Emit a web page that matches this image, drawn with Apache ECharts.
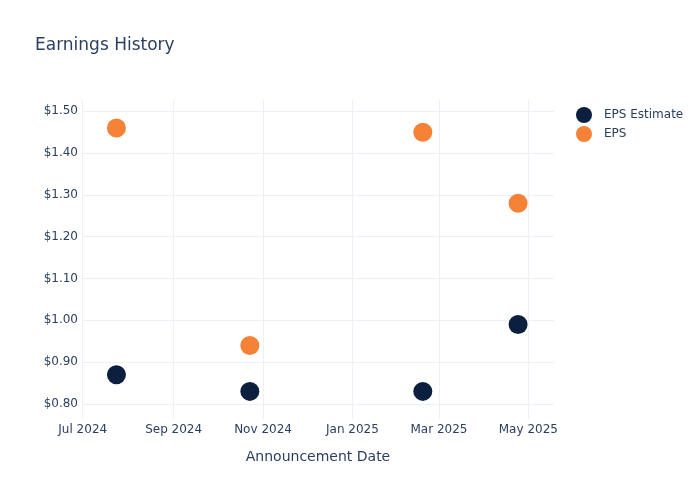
<!DOCTYPE html>
<html>
<head>
<meta charset="utf-8">
<script src="https://cdn.jsdelivr.net/npm/echarts@6/dist/echarts.min.js"></script>
<style>
  html, body { margin: 0; padding: 0; background: #fff; }
  #chart { width: 700px; height: 500px; }
</style>
</head>
<body>
<div id="chart"></div>
<script>
// Announcement dates and EPS values
const dates = ["2024-07-24", "2024-10-23", "2025-02-18", "2025-04-24"];
const epsEstimate = [0.87, 0.83, 0.83, 0.99];
const epsActual = [1.46, 0.94, 1.45, 1.28];

// Tick labels
const xTicks = ["2024-07-01", "2024-09-01", "2024-11-01", "2025-01-01", "2025-03-01", "2025-05-01"];
const yTicks = [0.8, 0.9, 1.0, 1.1, 1.2, 1.3, 1.4, 1.5];
const monthNames = ["Jan", "Feb", "Mar", "Apr", "May", "Jun", "Jul", "Aug", "Sep", "Oct", "Nov", "Dec"];

const textColor = "#2a3f5f";
const gridColor = "#ebf0f8";
const font = "DejaVu Sans";

function toTime(d) {
  return new Date(d + "T00:00:00Z").getTime();
}

function pairs(values) {
  return dates.map((d, i) => [toTime(d), values[i]]);
}

const chart = echarts.init(document.getElementById("chart"), null, { renderer: "canvas" });

// x axis is a plain value axis of timestamps so the month ticks can be placed exactly
chart.setOption({
  animation: false,
  textStyle: { fontFamily: font, color: textColor },
  title: {
    text: "Earnings History",
    left: 30,
    top: 32,
    textStyle: { fontFamily: font, fontSize: 17, fontWeight: "normal", color: textColor },
  },
  legend: {
    orient: "vertical",
    left: 571,
    top: 102,
    itemWidth: 16,
    itemHeight: 16,
    itemGap: 3,
    icon: "circle",
    textStyle: { fontFamily: font, fontSize: 12, color: textColor, padding: [0, 0, 0, 7] },
    data: ["EPS Estimate", "EPS"],
  },
  grid: { left: 82, right: 146, top: 100, bottom: 81, containLabel: false },
  xAxis: {
    type: "value",
    min: toTime("2024-06-30") + 12 * 3600 * 1000,
    max: toTime("2025-05-18") + 12 * 3600 * 1000,
    name: "Announcement Date",
    nameLocation: "middle",
    nameGap: 31,
    nameTextStyle: { fontFamily: font, fontSize: 14, color: textColor },
    axisLine: { show: false },
    axisTick: { show: false, customValues: xTicks.map(toTime) },
    splitLine: { show: true, lineStyle: { color: gridColor, width: 1 } },
    axisLabel: {
      customValues: xTicks.map(toTime),
      margin: 5,
      fontFamily: font,
      fontSize: 12,
      color: textColor,
      formatter: (v) => {
        const d = new Date(v);
        return monthNames[d.getUTCMonth()] + " " + d.getUTCFullYear();
      },
    },
  },
  yAxis: {
    type: "value",
    min: 0.764,
    max: 1.527,
    axisLine: { show: false },
    axisTick: { show: false, customValues: yTicks },
    splitLine: { show: true, lineStyle: { color: gridColor, width: 1 } },
    axisLabel: {
      customValues: yTicks,
      margin: 4,
      fontFamily: font,
      fontSize: 12,
      color: textColor,
      formatter: (v) => "$" + v.toFixed(2),
    },
  },
  series: [
    {
      name: "EPS Estimate",
      type: "scatter",
      symbol: "circle",
      symbolSize: 19,
      itemStyle: { color: "#0c1f3f", opacity: 1 },
      data: pairs(epsEstimate),
    },
    {
      name: "EPS",
      type: "scatter",
      symbol: "circle",
      symbolSize: 19,
      itemStyle: { color: "#f68237", opacity: 1 },
      data: pairs(epsActual),
    },
  ],
});
</script>
</body>
</html>
